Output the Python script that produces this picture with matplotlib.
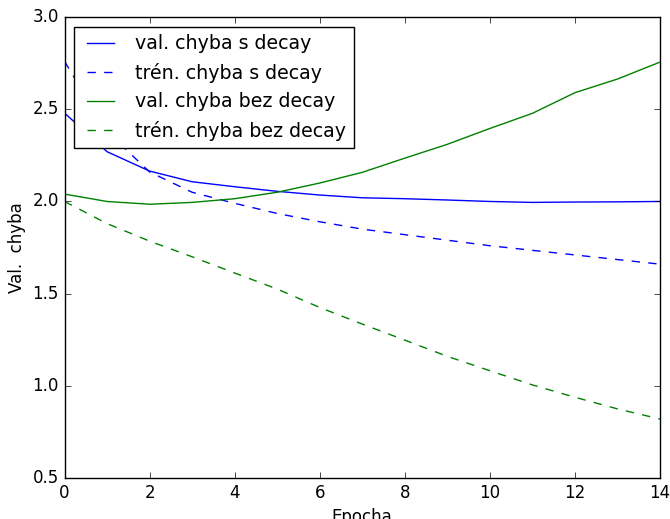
import matplotlib
matplotlib.use("Agg")
import matplotlib.pyplot as plt

# Loss per epoch, with and without weight decay
epochs = list(range(15))
val_decay = [2.48, 2.27, 2.165, 2.107, 2.08, 2.055, 2.035, 2.02, 2.015, 2.008, 2.0, 1.995, 1.997, 1.998, 2.0]
train_decay = [2.76, 2.38, 2.16, 2.05, 1.99, 1.935, 1.89, 1.85, 1.82, 1.79, 1.76, 1.735, 1.71, 1.685, 1.66]
val_nodecay = [2.04, 2.0, 1.985, 1.995, 2.015, 2.05, 2.1, 2.158, 2.235, 2.31, 2.396, 2.478, 2.59, 2.664, 2.756]
train_nodecay = [2.0, 1.88, 1.785, 1.7, 1.612, 1.525, 1.425, 1.335, 1.248, 1.16, 1.082, 1.005, 0.938, 0.875, 0.82]

plt.style.use("classic")

fig = plt.figure(figsize=(6.7, 5.19), dpi=100)
fig.patch.set_facecolor("white")
ax = fig.add_axes([0.0963, 0.079, 0.8887, 0.888])

ax.plot(epochs, val_decay, "b-", label="val. chyba s decay")
ax.plot(epochs, train_decay, "b--", label="trén. chyba s decay")
ax.plot(epochs, val_nodecay, "g-", label="val. chyba bez decay")
ax.plot(epochs, train_nodecay, "g--", label="trén. chyba bez decay")

ax.set_xlim(0, 14)
ax.set_ylim(0.5, 3.0)
ax.set_xlabel("Epocha")
ax.set_ylabel("Val.  chyba")
ax.legend(loc="upper left", prop={"size": 13.7})

fig.savefig("out.png", dpi=100, facecolor="white")
